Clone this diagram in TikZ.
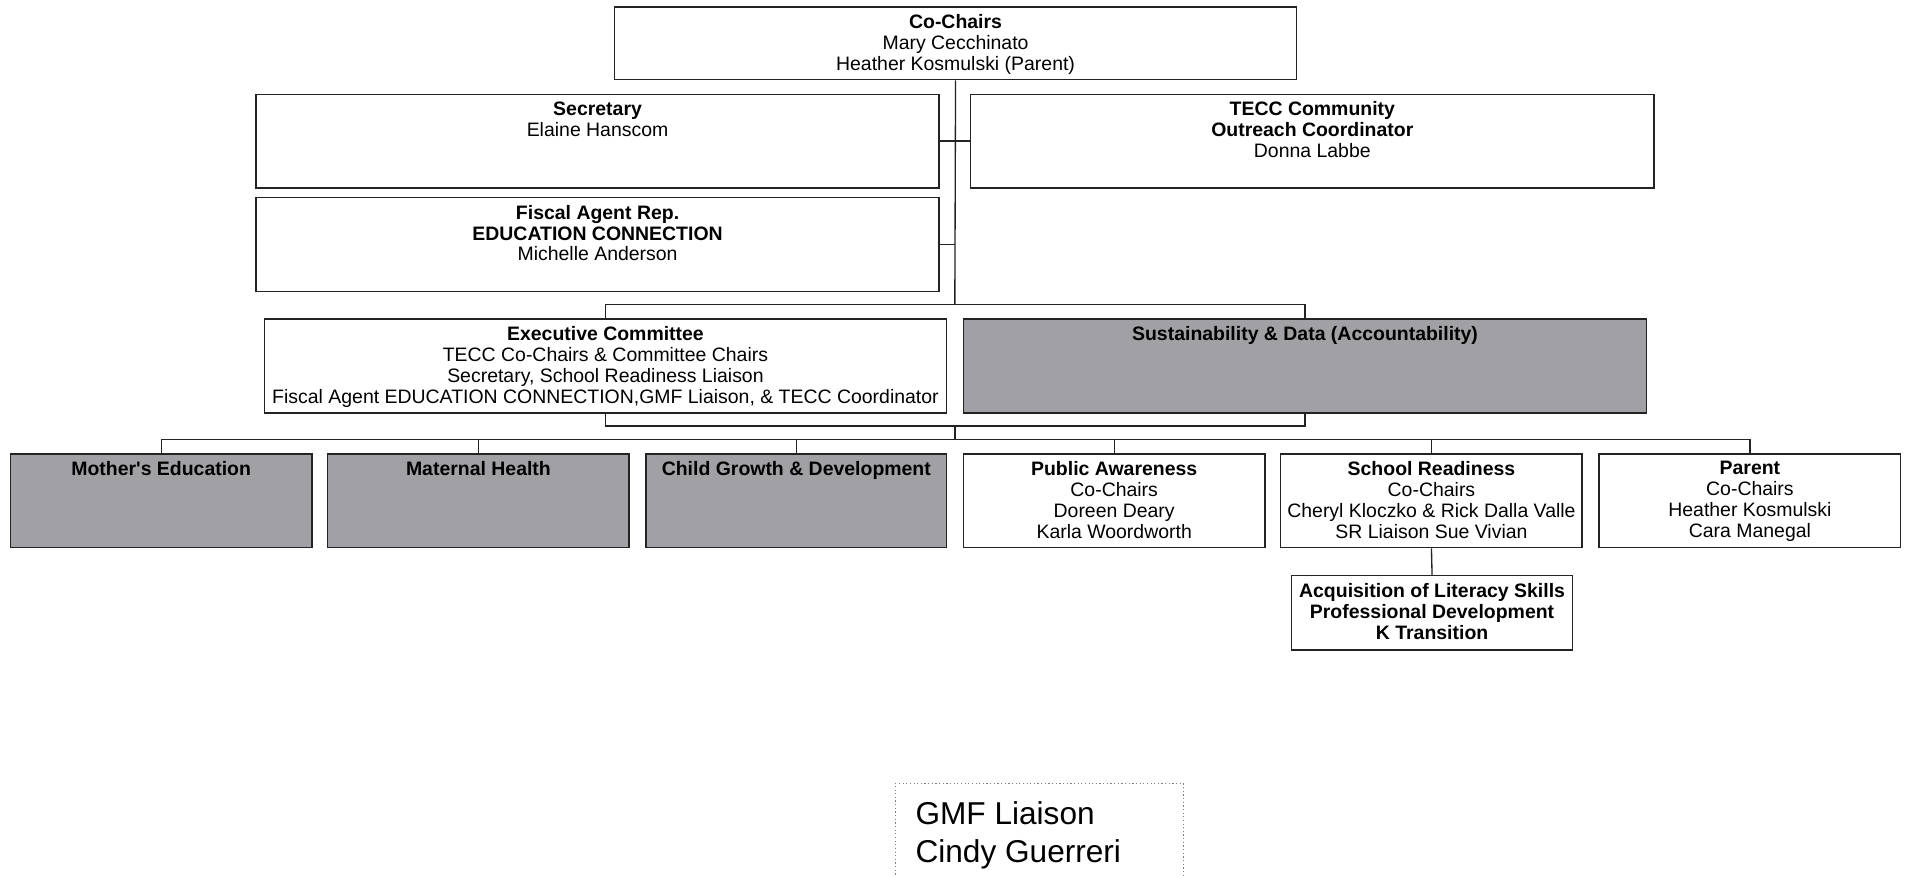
\documentclass[tikz,border=0pt]{standalone}
\usepackage{fontspec}
\setmainfont{Liberation Sans}
\usetikzlibrary{positioning}
\definecolor{boxgray}{RGB}{161,160,165}
\definecolor{linegray}{RGB}{35,35,35}
\tikzset{
	unit/.style={
		rectangle,
		draw=linegray,
		line width=1.2pt,
		fill=white,
		inner sep=0pt,
		anchor=north west
	},
	shaded/.style={unit, fill=boxgray},
	txt/.style={
		anchor=north,
		align=center,
		inner sep=0pt,
		font=\fontsize{16}{17.2}\selectfont
	},
	link/.style={draw=linegray, line width=1.1pt}
}

\begin{document}
\begin{tikzpicture}[x=1pt, y=-1pt]
	\useasboundingbox (0,0) rectangle (1568,720);
	% top level
	\node [unit, minimum width=561pt, minimum height=60pt] (cochairs) at (505,5) {};
	\node [unit, minimum width=562pt, minimum height=77pt] (secretary) at (210,77) {};
	\node [unit, minimum width=562pt, minimum height=77pt] (outreach) at (798,77) {};
	\node [unit, minimum width=562pt, minimum height=77pt] (fiscal) at (210,162) {};
	% committees
	\node [unit, minimum width=561pt, minimum height=77pt] (exec) at (217,262) {};
	\node [shaded, minimum width=562pt, minimum height=77pt] (sustain) at (792,262) {};
	\node [shaded, minimum width=248pt, minimum height=77pt] (mother) at (8,373) {};
	\node [shaded, minimum width=248pt, minimum height=77pt] (maternal) at (269,373) {};
	\node [shaded, minimum width=247pt, minimum height=77pt] (child) at (531,373) {};
	\node [unit, minimum width=248pt, minimum height=77pt] (public) at (792,373) {};
	\node [unit, minimum width=248pt, minimum height=77pt] (school) at (1053,373) {};
	\node [unit, minimum width=248pt, minimum height=77pt] (parent) at (1315,373) {};
	\node [unit, minimum width=231pt, minimum height=61pt] (literacy) at (1062,473) {};
	\node [unit, draw=gray, line width=1pt, dotted, minimum width=237pt, minimum height=100pt] (gmf) at (736,644) {};

	% texts
	\node [txt] (cochairs-t) at ([yshift=-6.5pt]cochairs.north) {\textbf{Co-Chairs}\\Mary Cecchinato\\Heather Kosmulski (Parent)};
	\node [txt] (secretary-t) at ([yshift=-6.5pt]secretary.north) {\textbf{Secretary}\\Elaine Hanscom};
	\node [txt] (outreach-t) at ([yshift=-6.5pt]outreach.north) {\textbf{TECC Community}\\\textbf{Outreach Coordinator}\\Donna Labbe};
	\node [txt] (fiscal-t) at ([yshift=-6.5pt]fiscal.north) {\textbf{Fiscal Agent Rep.}\\\textbf{EDUCATION CONNECTION}\\Michelle Anderson};
	\node [txt] (exec-t) at ([yshift=-6.5pt]exec.north) {\textbf{Executive Committee}\\TECC Co-Chairs \& Committee Chairs\\Secretary, School Readiness Liaison\\Fiscal Agent EDUCATION CONNECTION,GMF Liaison, \& TECC Coordinator};
	\node [txt] (sustain-t) at ([yshift=-6.5pt]sustain.north) {\textbf{Sustainability \& Data (Accountability)}};
	\node [txt] (mother-t) at ([yshift=-6.5pt]mother.north) {\textbf{Mother\textquotesingle s Education}};
	\node [txt] (maternal-t) at ([yshift=-6.5pt]maternal.north) {\textbf{Maternal Health}};
	\node [txt] (child-t) at ([yshift=-6.5pt]child.north) {\textbf{Child Growth \& Development}};
	\node [txt] (public-t) at ([yshift=-6.5pt]public.north) {\textbf{Public Awareness}\\Co-Chairs\\Doreen Deary\\Karla Woordworth};
	\node [txt] (school-t) at ([yshift=-6.5pt]school.north) {\textbf{School Readiness}\\Co-Chairs\\Cheryl Kloczko \& Rick Dalla Valle\\SR Liaison Sue Vivian};
	\node [txt] (parent-t) at ([yshift=-6.5pt]parent.north) {\textbf{Parent}\\Co-Chairs\\Heather Kosmulski\\Cara Manegal};
	\node [txt] (literacy-t) at ([yshift=-6.5pt]literacy.north) {\bfseries Acquisition of Literacy Skills\\\bfseries Professional Development\\\bfseries K Transition};
	\node [txt, anchor=north west, align=left, font=\fontsize{26}{31}\selectfont] (gmf-t) at ([xshift=17pt, yshift=-15.5pt]gmf.north west) {GMF Liaison\\Cindy Guerreri};

	% connectors
	\coordinate (bus1) at (785.5,250.5);
	\coordinate (bus2) at (785.5,350.5);
	\coordinate (bus3) at (785.5,361.5);
	\draw [link] (cochairs.south) -- (bus1);
	\draw [link] (secretary.east) -- (outreach.west);
	\draw [link] (fiscal.east) -- (fiscal.east -| bus1);
	\draw [link] (exec.north) |- (bus1) -| (sustain.north);
	\draw [link] (exec.south) |- (bus2) -| (sustain.south);
	\draw [link] (bus2) -- (bus3);
	\draw [link] (mother.north) |- (bus3) -| (parent.north);
	\foreach \n in {maternal,child,public,school}
		\draw [link] (\n.north) -- (\n.north |- bus3);
	\draw [link] (school.south) -- (literacy.north);
\end{tikzpicture}
\end{document}
